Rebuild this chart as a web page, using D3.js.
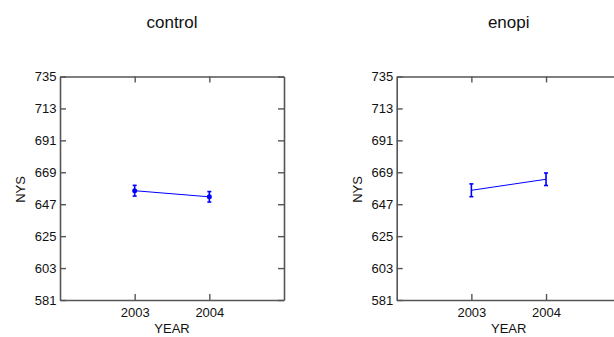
<!DOCTYPE html>
<html>
<head>
<meta charset="utf-8">
<script src="https://cdn.jsdelivr.net/npm/d3@7"></script>
<style>
  html, body { margin: 0; padding: 0; background: #fff; }
  svg { display: block; font-family: "Liberation Sans", Arial, sans-serif; }
</style>
</head>
<body>
<svg id="chart" width="614" height="337"></svg>
<script>
// Panel data: mean NYS score by year with error bar half-widths
const years = [2003, 2004];
const panelTitles = ["control", "enopi"];
const controlMeans = [656.3, 652.1];
const controlErrors = [3.7, 3.6];
const enopiMeans = [656.6, 664.2];
const enopiErrors = [4.4, 4.3];
const yTicks = [581, 603, 625, 647, 669, 691, 713, 735];
const xTicks = [2003, 2004];

const panels = [
  { title: panelTitles[0], means: controlMeans, errs: controlErrors, markers: true, left: 60 },
  { title: panelTitles[1], means: enopiMeans, errs: enopiErrors, markers: false, left: 396.7 }
];

const svg = d3.select("#chart");
const plotW = 224, plotTop = 76.5, plotH = 223.5;
const frameColor = "#555";
const textColor = "#111";
const blue = "#0000ff";
const tickLen = 6;
const labelSize = 13;

panels.forEach(p => {
  const g = svg.append("g").attr("transform", `translate(${p.left},${plotTop})`);
  const x = d3.scaleLinear().domain([2002, 2005]).range([0, plotW]);
  const y = d3.scaleLinear().domain([581, 735]).range([plotH, 0]);

  // inward-pointing ticks on all four sides, labels on left and bottom only
  const axL = d3.axisLeft(y).tickValues(yTicks).tickSizeInner(-tickLen).tickSizeOuter(0).tickPadding(3.5).tickFormat(d3.format("d"));
  const axR = d3.axisRight(y).tickValues(yTicks).tickSizeInner(-tickLen).tickSizeOuter(0).tickFormat("");
  const axB = d3.axisBottom(x).tickValues(xTicks).tickSizeInner(-tickLen).tickSizeOuter(0).tickPadding(7.5).tickFormat(d3.format("d"));
  const axT = d3.axisTop(x).tickValues(xTicks).tickSizeInner(-tickLen).tickSizeOuter(0).tickFormat("");

  const style = sel => {
    sel.select(".domain").attr("stroke", frameColor).attr("stroke-width", 1.6);
    sel.selectAll(".tick line").attr("stroke", frameColor).attr("stroke-width", 1.4);
    sel.selectAll(".tick text").attr("fill", textColor).attr("font-size", labelSize)
      .attr("font-family", "'Liberation Sans', Arial, sans-serif");
  };
  g.append("g").call(axL).call(style);
  g.append("g").attr("transform", `translate(${plotW},0)`).call(axR).call(style);
  g.append("g").attr("transform", `translate(0,${plotH})`).call(axB).call(style);
  g.append("g").call(axT).call(style);

  // title and axis labels
  g.append("text").attr("x", plotW / 2).attr("y", 27.5 - plotTop).attr("text-anchor", "middle")
    .attr("font-size", 17).attr("fill", textColor).text(p.title);
  g.append("text").attr("x", plotW / 2).attr("y", 333 - plotTop).attr("text-anchor", "middle")
    .attr("font-size", labelSize).attr("fill", textColor).text("YEAR");
  g.append("text").attr("transform", `translate(-35,${189.5 - plotTop}) rotate(-90)`).attr("text-anchor", "middle")
    .attr("font-size", labelSize).attr("fill", textColor).text("NYS");

  const pts = years.map((yr, i) => ({ yr, m: p.means[i], e: p.errs[i] }));

  // connecting line
  g.append("path").datum(pts)
    .attr("d", d3.line().x(d => x(d.yr)).y(d => y(d.m)))
    .attr("fill", "none").attr("stroke", blue).attr("stroke-width", 1);

  // error bars with caps
  const eb = g.selectAll(".eb").data(pts).enter().append("g");
  eb.append("line").attr("x1", d => x(d.yr)).attr("x2", d => x(d.yr))
    .attr("y1", d => y(d.m - d.e)).attr("y2", d => y(d.m + d.e))
    .attr("stroke", blue).attr("stroke-width", 1.6);
  [-1, 1].forEach(s => {
    eb.append("line").attr("x1", d => x(d.yr) - 2).attr("x2", d => x(d.yr) + 2)
      .attr("y1", d => y(d.m + s * d.e)).attr("y2", d => y(d.m + s * d.e))
      .attr("stroke", blue).attr("stroke-width", 1.6);
  });

  if (p.markers) {
    g.selectAll(".pt").data(pts).enter().append("circle")
      .attr("cx", d => x(d.yr)).attr("cy", d => y(d.m)).attr("r", 2.5).attr("fill", blue);
  }
});
</script>
</body>
</html>
